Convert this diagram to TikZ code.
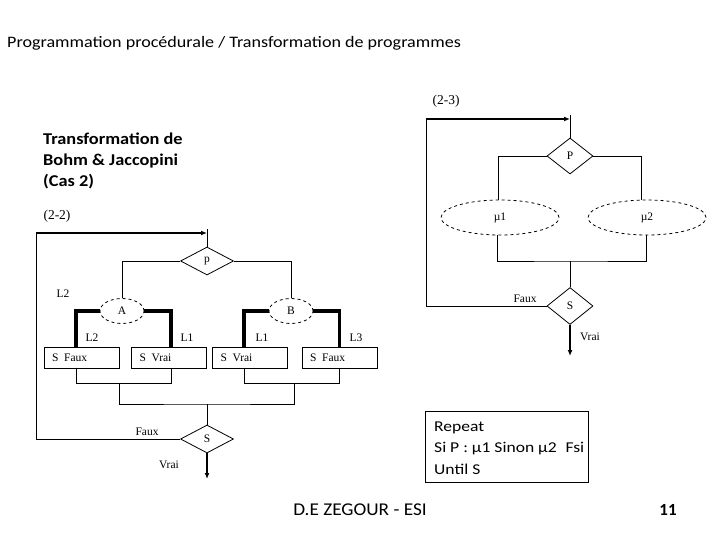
\documentclass[tikz,border=0pt]{standalone}
\usepackage{fontspec}
\setmainfont{Liberation Serif}
\newfontfamily\calf{Carlito}
\usetikzlibrary{shapes.geometric,arrows.meta}
\begin{document}
\begin{tikzpicture}[x=1pt,y=-1pt,
  thin line/.style={line width=0.8pt},
  thick branch/.style={line width=3.5pt},
  loopline/.style={line width=1.8pt,-{Latex[length=6pt,width=5pt]}},
  dia/.style={draw,thin line,diamond,inner sep=0pt,font=\fontsize{11.5}{12}\selectfont},
  ell/.style={draw,thin line,dashed,ellipse,inner sep=0pt,font=\fontsize{11.5}{12}\selectfont},
  sbox/.style={draw,thin line,minimum height=21pt,text width=59pt,inner xsep=8pt,align=left,font=\fontsize{11.5}{12}\selectfont},
  lab/.style={inner sep=0pt,font=\fontsize{11.5}{12}\selectfont},
  biglab/.style={inner sep=0pt,font=\fontsize{13.5}{14}\selectfont},
  calt/.style={inner sep=0pt,font=\calf\fontsize{16}{20}\selectfont},
  calb/.style={inner sep=0pt,font=\calf\bfseries\fontsize{16.5}{20}\selectfont},
  calr/.style={inner sep=0pt,font=\calf\fontsize{15}{20}\selectfont}]
\useasboundingbox (0,0) rectangle (720,540);

% titles
\node[calt,anchor=base west] (title) at (7,48) {\scalebox{1.13}[1]{Programmation procédurale / Transformation de programmes}};
\node[calb,anchor=base west] (bj1) at (43,145) {\scalebox{1.11}[1]{Transformation de}};
\node[calb,anchor=base west] (bj2) at (43,166) {\scalebox{1.11}[1]{Bohm \& Jaccopini}};
\node[calb,anchor=base west] (bj3) at (43,187) {\scalebox{1.11}[1]{(Cas 2)}};
\node[biglab] (t22) at (57,216) {(2-2)};
\node[biglab] (t23) at (446,101) {(2-3)};

% ===== left diagram (2-2) =====
\node[dia,minimum width=53pt,minimum height=28pt] (p) at (207,261) {p};
\node[ell,minimum width=44pt,minimum height=25pt] (A) at (122,311) {A};
\node[ell,minimum width=44pt,minimum height=25pt] (B) at (291,311) {B};
\node[sbox] (sf1) at (81.5,357.5) {S\enspace Faux};
\node[sbox] (sv1) at (169,357.5) {S\enspace Vrai};
\node[sbox] (sv2) at (250,357.5) {S\enspace Vrai};
\node[sbox] (sf2) at (339.5,357.5) {S\enspace Faux};
\node[dia,minimum width=53pt,minimum height=28pt] (s1) at (207,439) {S};

\draw[thin line] (p.west) -| (A.north);
\draw[thin line] (p.east) -| (B.north);
\draw[thick branch] (A.west) -| ([xshift=-5.5pt]sf1.north);
\draw[thick branch] (A.east) -| ([xshift=2pt]sv1.north);
\draw[thick branch] (B.west) -| ([xshift=-6pt]sv2.north);
\draw[thick branch] (B.east) -| (sf2.north);

\coordinate (j1) at (119,383);
\coordinate (j2) at (294,383);
\coordinate (j3) at (207,404);
\draw[thin line] ([xshift=-5.5pt]sf1.south) -- ++(0,15) -| ([xshift=2pt]sv1.south);
\draw[thin line] ([xshift=-6pt]sv2.south) -- ++(0,15) -| (sf2.south);
\draw[thin line] (j1) |- (j3) -| (j2);
\draw[thin line] (j3) -- (s1.north);

\coordinate (top1) at (207,229);
\coordinate (c1) at (36,233);
\coordinate (c2) at (207,233);
\draw[thin line] (p.north) -- (top1);
\draw[thin line] (s1.west) -| (c1);
\draw[loopline] (c1) -- (c2);
\coordinate (out1) at (207,479);
\draw[loopline] (s1.south) -- (out1);

\node[lab] (l2a) at (63,294) {L2};
\node[lab] (l2b) at (92,338) {L2};
\node[lab] (l1a) at (187,338) {L1};
\node[lab] (l1b) at (262,338) {L1};
\node[lab] (l3) at (356,338) {L3};
\node[lab] (f1) at (147,432) {Faux};
\node[lab] (v1) at (169,465) {Vrai};

% ===== right diagram (2-3) =====
\node[dia,minimum width=46pt,minimum height=36pt] (P) at (570,156) {P};
\node[ell,minimum width=118pt,minimum height=35pt] (mu1) at (500,217.5) {µ1};
\node[ell,minimum width=118pt,minimum height=35pt] (mu2) at (647,217.5) {µ2};
\node[dia,minimum width=46pt,minimum height=37pt] (s2) at (570,306) {S};

\draw[thin line] (P.west) -| ([xshift=-2pt]mu1.north);
\draw[thin line] (P.east) -| ([xshift=-6pt]mu2.north);
\coordinate (j4) at (570,261);
\draw[thin line] ([xshift=-3pt]mu1.south) |- (j4) -| ([xshift=-1pt]mu2.south);
\draw[thin line] (j4) -- (s2.north);

\coordinate (top2) at (570,115);
\coordinate (c3) at (426,119);
\coordinate (c4) at (570,119);
\draw[thin line] (P.north) -- (top2);
\draw[thin line] (s2.west) -| (c3);
\draw[loopline] (c3) -- (c4);
\coordinate (out2) at (570,356);
\draw[loopline] (s2.south) -- (out2);

\node[lab] (f2) at (525,299) {Faux};
\node[lab] (v2) at (590,337) {Vrai};

% ===== repeat box =====
\node[draw,thin line,anchor=north west,minimum width=163pt,minimum height=71pt,inner sep=0pt] (rep) at (425,411) {};
\node[calr,anchor=base west] (r1) at (434,431) {\scalebox{1.17}[1]{Repeat}};
\node[calr,anchor=base west] (r2) at (434,452.5) {\scalebox{1.17}[1]{Si P : µ1 Sinon µ2\enspace Fsi}};
\node[calr,anchor=base west] (r3) at (434,474) {\scalebox{1.17}[1]{Until S}};

% footer
\node[calt,anchor=base,font=\calf\fontsize{18}{20}\selectfont] (foot) at (360,515) {\scalebox{1.07}[1]{D.E ZEGOUR - ESI}};
\node[calt,anchor=base,font=\calf\bfseries\fontsize{17}{20}\selectfont] (num) at (668,515) {11};
\end{tikzpicture}
\end{document}
